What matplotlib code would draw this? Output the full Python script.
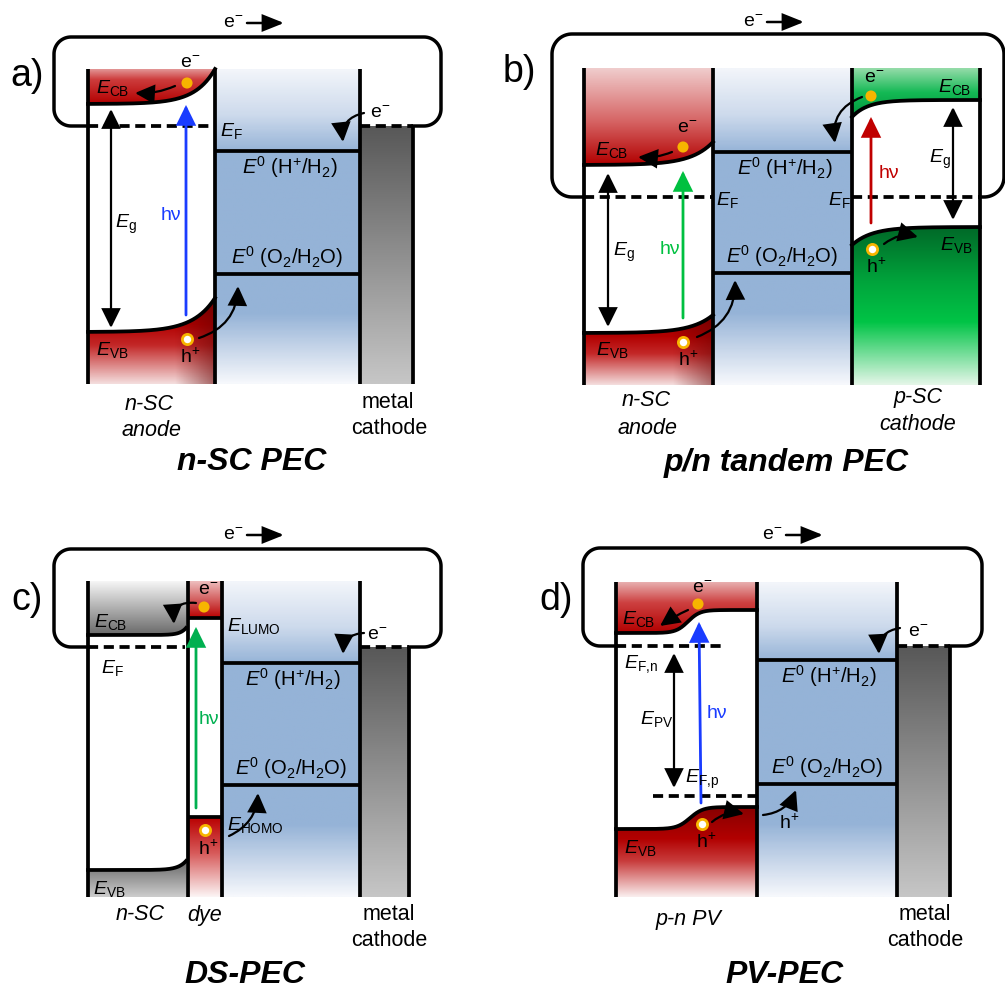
import numpy as np
import matplotlib
matplotlib.use("Agg")
import matplotlib.pyplot as plt
from matplotlib.patches import Polygon, FancyArrowPatch
from matplotlib.colors import LinearSegmentedColormap

plt.rcParams['font.family'] = ['Liberation Sans', 'DejaVu Sans']
plt.rcParams['mathtext.fontset'] = 'custom'
plt.rcParams['mathtext.rm'] = 'Liberation Sans'
plt.rcParams['mathtext.it'] = 'Liberation Sans:italic'
plt.rcParams['mathtext.bf'] = 'Liberation Sans:bold'
plt.rcParams['mathtext.sf'] = 'Liberation Sans'

# ---------------------------------------------------------------- data
panel_labels = ['a)', 'b)', 'c)', 'd)']
panel_titles = ['n-SC PEC', 'p/n tandem PEC', 'DS-PEC', 'PV-PEC']
label_pos = [(27, 76), (519, 72), (27, 600), (556, 600)]
title_pos = [(252, 462), (786, 463), (245, 975), (785, 975)]

# column boundaries (x)
cols_a = [88, 215, 360, 413]
cols_b = [584, 713, 852, 980]
cols_c = [88, 188, 222, 360, 409]
cols_d = [616, 757, 897, 950]
# top / bottom of each band diagram (y)
band_top = [69, 68, 581, 582]
band_bot = [384, 385, 897, 897]
# redox levels of the electrolyte
level_h2 = [151, 152, 663, 660]
level_o2 = [274, 273, 785, 784]
# Fermi level / external circuit height
level_fermi = [126, 197, 647, 646]
# band edges: [bulk, surface]
cb_a = [104, 69]
vb_a = [332, 298]
cb_bn = [165, 142]
vb_bn = [333, 315]
cb_bp = [100, 117]
vb_bp = [227, 245]
cb_c = [635, 628]
vb_c = [870, 861]
lumo_c = 618
homo_c = 817
cb_d = [633, 610]
vb_d = [829, 807]
fermi_n_d = 646
fermi_p_d = 796
# external circuit outline: left, top, right
box_a = [54, 37, 441]
box_b = [552, 34, 1004]
box_c = [54, 549, 441]
box_d = [583, 548, 982]

# ---------------------------------------------------------------- styles
W, H = 1005, 990
fig = plt.figure(figsize=(W / 100, H / 100), dpi=100)
ax = fig.add_axes([0, 0, 1, 1])
ax.axis('off')

LW = 2.7
FS = 14
FS_E0 = 14.6
FS_CAP = 15.5
ORANGE = '#f7b500'
BLUE = (149, 179, 215)
BLUE_L = (242, 245, 250)
RED = (178, 0, 0)
RED_L = (244, 222, 222)


def c255(c):
    return tuple(v / 255 for v in c)


def gfill(xs, y_up, y_lo, stops, ya, yb, z=1, horizontal=False, xa=None, xb=None):
    xs = np.asarray(xs, float)
    y_up = np.broadcast_to(np.asarray(y_up, float), xs.shape)
    y_lo = np.broadcast_to(np.asarray(y_lo, float), xs.shape)
    verts = np.vstack([np.column_stack([xs, y_up]),
                       np.column_stack([xs[::-1], y_lo[::-1]])])
    poly = Polygon(verts, closed=True, fc='none', ec='none')
    ax.add_patch(poly)
    cols = []
    for p, c in stops:
        if len(c) == 3:
            cols.append((p, c255(c) + (1.0,)))
        else:
            cols.append((p, c255(c[:3]) + (c[3],)))
    cmap = LinearSegmentedColormap.from_list('g', cols)
    if horizontal:
        img = np.linspace(0, 1, 300).reshape(1, -1)
        ext = [xa, xb, float(np.max(y_lo)), float(np.min(y_up))]
    else:
        img = np.linspace(0, 1, 300).reshape(-1, 1)
        ext = [xs.min(), xs.max(), yb, ya]
    im = ax.imshow(img, cmap=cmap, vmin=0, vmax=1, extent=ext, origin='upper',
                   aspect='auto', interpolation='bilinear', zorder=z)
    im.set_clip_path(poly)


def vline(x, y0, y1, lw=LW, z=3):
    ax.plot([x, x], [y0, y1], color='k', lw=lw, solid_capstyle='butt', zorder=z)


def hline(x0, x1, y, lw=LW, dashed=False, z=3):
    if dashed:
        ax.plot([x0, x1], [y, y], color='k', lw=lw, dashes=(2.7, 1.5), zorder=z)
    else:
        ax.plot([x0, x1], [y, y], color='k', lw=lw, solid_capstyle='butt', zorder=z)


def arrow(p0, p1, color='k', lw=1.6, rad=0.0, style='-|>', hl=0.65, hw=0.32, ms=18, z=6):
    st = f'{style},head_length={hl},head_width={hw}'
    a = FancyArrowPatch(p0, p1, arrowstyle=st, mutation_scale=ms, lw=lw, color=color,
                        connectionstyle=f'arc3,rad={rad}', shrinkA=0, shrinkB=0,
                        zorder=z, joinstyle='miter')
    ax.add_patch(a)


def txt(x, y, s, size=FS, color='k', ha='center', va='center', style='normal',
        weight='normal', z=7):
    ax.text(x, y, s, fontsize=size, color=color, ha=ha, va=va, style=style,
            weight=weight, zorder=z)


def edot(x, y):
    ax.scatter([x], [y], s=64, color=ORANGE, edgecolors='none', zorder=8)


def hdot(x, y):
    ax.scatter([x], [y], s=54, facecolors='white', edgecolors=ORANGE, linewidths=2.0,
               zorder=8)


def circuit(x_start, yb, box, x_end, r=17):
    xl, yt, xr = box
    pts = [(x_start, yb), (xl + r, yb)]
    th = np.linspace(np.pi / 2, np.pi, 20)
    pts += list(zip(xl + r + r * np.cos(th), yb - r + r * np.sin(th)))
    th = np.linspace(np.pi, 1.5 * np.pi, 20)
    pts += list(zip(xl + r + r * np.cos(th), yt + r + r * np.sin(th)))
    th = np.linspace(1.5 * np.pi, 2 * np.pi, 20)
    pts += list(zip(xr - r + r * np.cos(th), yt + r + r * np.sin(th)))
    th = np.linspace(0, np.pi / 2, 20)
    pts += list(zip(xr - r + r * np.cos(th), yb - r + r * np.sin(th)))
    pts += [(x_end, yb)]
    pts = np.array(pts)
    ax.plot(pts[:, 0], pts[:, 1], color='k', lw=2.5, solid_joinstyle='round', zorder=4)


def eflow(x, y):
    txt(x, y, 'e$^{-}$', size=FS)
    arrow((x + 14, y), (x + 51, y), lw=1.8, hl=0.8, hw=0.32, ms=16)


def bend_left_flat(x0, x1, bulk, surf, scale, n=300):
    xs = np.linspace(x0, x1, n)
    return xs, bulk + (surf - bulk) * np.exp((xs - x1) / scale)


def bend_right_flat(x0, x1, bulk, surf, scale, n=300):
    xs = np.linspace(x0, x1, n)
    return xs, bulk + (surf - bulk) * np.exp(-(xs - x0) / scale)


def step(x0, x1, left, right, xc, w, n=300):
    xs = np.linspace(x0, x1, n)
    return xs, left + (right - left) / (1 + np.exp(-(xs - xc) / w))


def electrolyte(x0, x1, top, bot, h2, o2):
    span = bot - top
    p1 = (h2 - top) / span
    p2 = (o2 + 40 - top) / span
    stops = [(0, BLUE_L), (p1 * 0.55, (205, 218, 236)), (p1, BLUE), (p2, BLUE),
             (p2 + (1 - p2) * 0.5, (198, 213, 233)), (1, (246, 248, 252))]
    gfill([x0, x1], top, bot, stops, top, bot)
    hline(x0, x1, h2)
    hline(x0, x1, o2)
    xm = (x0 + x1) / 2
    txt(xm + 2, h2 + 16, r'$E^{0}$ (H$^{+}$/H$_{2}$)', size=FS_E0)
    txt(xm, o2 - 17, r'$E^{0}$ (O$_{2}$/H$_{2}$O)', size=FS_E0)


def metal(x0, x1, yF, bot):
    gfill([x0, x1], yF, bot, [(0, (88, 88, 88)), (1, (198, 198, 198))], yF, bot)
    hline(x0, x1, yF, dashed=True)


# ================================================================ panel a
i = 0
x0, x1, x2, x3 = cols_a
top, bot, yF = band_top[i], band_bot[i], level_fermi[i]
xs, cb = bend_left_flat(x0, x1, cb_a[0], cb_a[1], 20)
_, vb = bend_left_flat(x0, x1, vb_a[0], vb_a[1], 22)
gfill(xs, top, cb, [(0, (226, 150, 150)), (0.3, (205, 60, 60)), (1, RED)], top, cb_a[0])
gfill(xs, vb, bot, [(0, (130, 0, 0)), (0.3, RED), (0.55, (195, 40, 40)), (1, RED_L)], vb_a[1], bot)
gfill(xs, vb, bot, [(0, (100, 0, 0, 0)), (1, (100, 0, 0, 0.55))], 0, 0, z=1.5,
      horizontal=True, xa=x1 - 40, xb=x1)
ax.plot(xs, cb, color='k', lw=LW, zorder=3)
ax.plot(xs, vb, color='k', lw=LW, zorder=3)
electrolyte(x1, x2, top, bot, level_h2[i], level_o2[i])
metal(x2, x3, yF, bot)
for x in (x0, x1, x2):
    vline(x, top, bot)
vline(x3, yF, bot)
hline(x0, x1, yF, dashed=True)
circuit(x0, yF, box_a, x3)
eflow(233, 23)
txt(113, 88, r'$E_{\mathrm{CB}}$')
txt(112, 350, r'$E_{\mathrm{VB}}$')
txt(231, 131, r'$E_{\mathrm{F}}$')
arrow((111, 109), (111, 328), style='<|-|>', lw=1.6)
txt(126, 224, r'$E_{\mathrm{g}}$')
arrow((186, 315), (186, 105), color='#1a3cff', lw=2.0)
txt(171, 216, 'hν', color='#1a3cff')
edot(187, 83)
txt(190, 63, 'e$^{-}$')
arrow((175, 86), (135, 93), rad=-0.12)
hdot(187, 339)
txt(190, 357, 'h$^{+}$')
arrow((199, 338), (238, 286), rad=0.35)
arrow((364, 113), (343, 142), rad=0.45)
txt(380, 113, 'e$^{-}$')

# ================================================================ panel b
i = 1
x0, x1, x2, x3 = cols_b
top, bot, yF = band_top[i], band_bot[i], level_fermi[i]
xs, cb = bend_left_flat(x0, x1, cb_bn[0], cb_bn[1], 22)
_, vb = bend_left_flat(x0, x1, vb_bn[0], vb_bn[1], 22)
gfill(xs, top, cb, [(0, (240, 205, 205)), (0.55, (214, 100, 100)), (1, RED)], top, cb_bn[0])
gfill(xs, vb, bot, [(0, (140, 0, 0)), (0.3, RED), (0.55, (195, 40, 40)), (1, RED_L)], vb_bn[1], bot)
gfill(xs, vb, bot, [(0, (100, 0, 0, 0)), (1, (100, 0, 0, 0.5))], 0, 0, z=1.5,
      horizontal=True, xa=x1 - 40, xb=x1)
ax.plot(xs, cb, color='k', lw=LW, zorder=3)
ax.plot(xs, vb, color='k', lw=LW, zorder=3)
electrolyte(x1, x2, top, bot, level_h2[i], level_o2[i])
xp, cbp = bend_right_flat(x2, x3, cb_bp[0], cb_bp[1], 16)
_, vbp = bend_right_flat(x2, x3, vb_bp[0], vb_bp[1], 20)
gfill(xp, top, cbp, [(0, (150, 220, 170)), (0.5, (20, 185, 85)), (1, (0, 150, 60))], top, cb_bp[1])
gfill(xp, vbp, bot, [(0, (0, 105, 40)), (0.35, (0, 165, 60)), (0.6, (0, 196, 70)),
                     (1, (228, 246, 232))], vb_bp[0], bot)
ax.plot(xp, cbp, color='k', lw=LW, zorder=3)
ax.plot(xp, vbp, color='k', lw=LW, zorder=3)
for x in (x0, x1, x2, x3):
    vline(x, top, bot)
hline(x0, x1, yF, dashed=True)
hline(x2, x3, yF, dashed=True)
circuit(x0, yF, box_b, x3, r=20)
eflow(753, 22)
txt(612, 150, r'$E_{\mathrm{CB}}$')
txt(612, 350, r'$E_{\mathrm{VB}}$')
txt(727, 200, r'$E_{\mathrm{F}}$')
txt(839, 200, r'$E_{\mathrm{F}}$')
arrow((608, 173), (608, 327), style='<|-|>', lw=1.6)
txt(624, 252, r'$E_{\mathrm{g}}$')
arrow((683, 318), (683, 171), color='#00c040', lw=2.0)
txt(670, 250, 'hν', color='#00c040')
edot(683, 147)
txt(687, 128, 'e$^{-}$')
arrow((672, 152), (638, 157), rad=-0.12)
hdot(683, 342)
txt(688, 360, 'h$^{+}$')
arrow((697, 337), (735, 280), rad=0.35)
txt(955, 87, r'$E_{\mathrm{CB}}$')
txt(956, 245, r'$E_{\mathrm{VB}}$')
arrow((953, 107), (953, 220), style='<|-|>', lw=1.6)
txt(940, 159, r'$E_{\mathrm{g}}$')
arrow((871, 223), (871, 117), color='#c00000', lw=2.0)
txt(889, 173, 'hν', color='#c00000')
edot(871, 96)
txt(874, 78, 'e$^{-}$')
arrow((862, 97), (835, 143), rad=0.4)
hdot(872, 249)
txt(876, 267, 'h$^{+}$')
arrow((884, 244), (918, 237), rad=-0.25)

# ================================================================ panel c
i = 2
x0, x1, x2, x3, x4 = cols_c
top, bot, yF = band_top[i], band_bot[i], level_fermi[i]
xs, cb = bend_left_flat(x0, x1 - 2, cb_c[0], cb_c[1], 6)
_, vb = bend_left_flat(x0, x1 - 2, vb_c[0], vb_c[1], 8)
gfill(xs, top, cb, [(0, (246, 246, 246)), (1, (105, 105, 105))], top, cb_c[0])
gfill(xs, vb, bot, [(0, (105, 105, 105)), (1, (205, 205, 205))], vb_c[1], bot)
ax.plot(xs, cb, color='k', lw=LW, zorder=3)
ax.plot(xs, vb, color='k', lw=LW, zorder=3)
# dye
gfill([x1, x2], top, lumo_c, [(0, (238, 190, 190)), (1, (185, 0, 0))], top, lumo_c)
gfill([x1, x2], homo_c, bot, [(0, (185, 0, 0)), (0.45, (215, 90, 90)), (1, (252, 245, 245))], homo_c, bot)
hline(x1, x2, lumo_c)
hline(x1, x2, homo_c)
electrolyte(x2, x3, top, bot, level_h2[i], level_o2[i])
metal(x3, x4, yF, bot)
for x in (x0, x1, x2, x3):
    vline(x, top, bot)
vline(x4, yF, bot)
hline(x0, x1 - 3, yF, dashed=True)
circuit(x0, yF, box_c, x4)
eflow(233, 535)
txt(111, 622, r'$E_{\mathrm{CB}}$')
txt(112, 668, r'$E_{\mathrm{F}}$')
txt(109, 889, r'$E_{\mathrm{VB}}$')
edot(204, 607)
txt(208, 590, 'e$^{-}$')
arrow((196, 603), (174, 624), rad=0.6)
hdot(205, 830)
txt(208, 849, 'h$^{+}$')
arrow((196, 808), (196, 627), color='#00b050', lw=2.0)
txt(209, 720, 'hν', color='#00b050')
txt(227, 626, r'$E_{\mathrm{LUMO}}$', ha='left')
txt(227, 825, r'$E_{\mathrm{HOMO}}$', ha='left')
arrow((229, 836), (258, 793), rad=0.3)
arrow((364, 633), (343, 654), rad=0.45)
txt(377, 635, 'e$^{-}$')

# ================================================================ panel d
i = 3
x0, x1, x2, x3 = cols_d
top, bot, yF = band_top[i], band_bot[i], level_fermi[i]
xs, cb = step(x0, x1, cb_d[0], cb_d[1], 688, 6)
_, vb = step(x0, x1, vb_d[0], vb_d[1], 690, 6.5)
gfill(xs, top, cb, [(0, (232, 175, 175)), (0.4, (205, 65, 65)), (1, RED)], top, cb_d[0])
gfill(xs, vb, bot, [(0, (135, 0, 0)), (0.35, RED), (0.6, (200, 60, 60)), (1, (250, 238, 238))], vb_d[1], bot)
ax.plot(xs, cb, color='k', lw=LW, zorder=3)
ax.plot(xs, vb, color='k', lw=LW, zorder=3)
electrolyte(x1, x2, top, bot, level_h2[i], level_o2[i])
metal(x2, x3, yF, bot)
for x in (x0, x1, x2):
    vline(x, top, bot)
vline(x3, yF, bot)
hline(x0, 723, fermi_n_d, dashed=True)
hline(653, x1, fermi_p_d, dashed=True)
circuit(x0, yF, box_d, x3)
eflow(772, 535)
txt(639, 619, r'$E_{\mathrm{CB}}$')
txt(640, 848, r'$E_{\mathrm{VB}}$')
txt(641, 664, r'$E_{\mathrm{F{,}n}}$')
txt(702, 779, r'$E_{\mathrm{F{,}p}}$')
arrow((674, 653), (674, 788), style='<|-|>', lw=1.6)
txt(657, 719, r'$E_{\mathrm{PV}}$')
arrow((701, 803), (699, 622), color='#1a3cff', lw=2.0)
txt(717, 713, 'hν', color='#1a3cff')
edot(698, 604)
txt(702, 588, 'e$^{-}$')
arrow((688, 610), (660, 626), rad=0.05)
hdot(702, 824)
txt(706, 842, 'h$^{+}$')
arrow((712, 822), (744, 814), rad=-0.25)
arrow((763, 815), (796, 790), rad=0.3)
txt(789, 823, 'h$^{+}$')
arrow((900, 628), (879, 654), rad=0.45)
txt(918, 632, 'e$^{-}$')

# ================================================================ captions
txt(149, 404, 'n-SC', style='italic', size=FS_CAP)
txt(152, 430, 'anode', style='italic', size=FS_CAP)
txt(388, 403, 'metal', size=FS_CAP)
txt(389, 429, 'cathode', size=FS_CAP)
txt(646, 401, 'n-SC', style='italic', size=FS_CAP)
txt(648, 428, 'anode', style='italic', size=FS_CAP)
txt(918, 398, 'p-SC', style='italic', size=FS_CAP)
txt(918, 424, 'cathode', style='italic', size=FS_CAP)
txt(140, 915, 'n-SC', style='italic', size=FS_CAP)
txt(205, 915, 'dye', style='italic', size=FS_CAP)
txt(389, 914, 'metal', size=FS_CAP)
txt(389, 940, 'cathode', size=FS_CAP)
txt(688, 919, 'p-n PV', style='italic', size=FS_CAP)
txt(925, 915, 'metal', size=FS_CAP)
txt(925, 941, 'cathode', size=FS_CAP)

for lab, (lx, ly) in zip(panel_labels, label_pos):
    txt(lx, ly, lab, size=27)
for ttl, (tx, ty) in zip(panel_titles, title_pos):
    txt(tx, ty, ttl, size=23, weight='bold', style='italic')

ax.set_xlim(0, W)
ax.set_ylim(H, 0)
fig.savefig('out.png', dpi=100, facecolor='white')
